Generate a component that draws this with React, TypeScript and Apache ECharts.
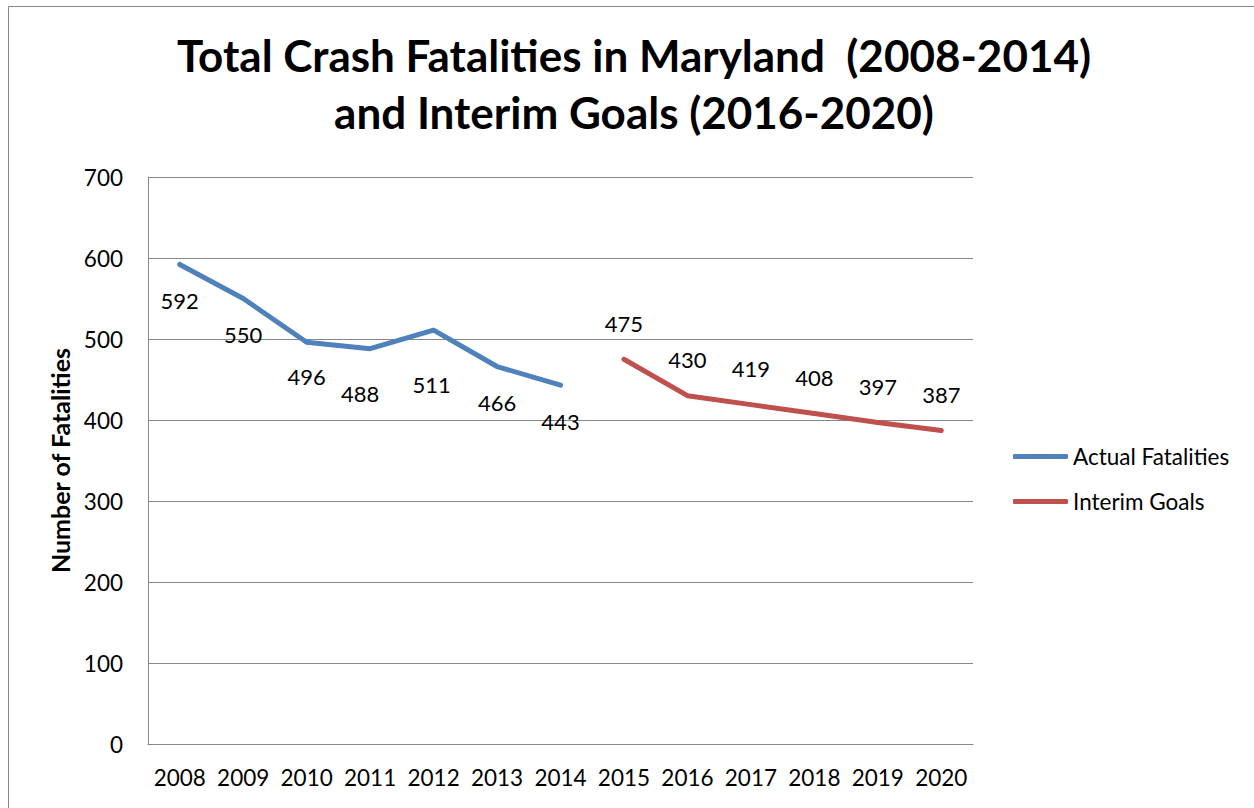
import React, { useEffect, useRef } from "react";
import * as echarts from "echarts";

const years = ["2008", "2009", "2010", "2011", "2012", "2013", "2014", "2015", "2016", "2017", "2018", "2019", "2020"];
const actualFatalities = [592, 550, 496, 488, 511, 466, 443, null, null, null, null, null, null];
const interimGoals = [null, null, null, null, null, null, null, 475, 430, 419, 408, 397, 387];
const yTicks = { min: 0, max: 700, interval: 100 };
// label nudges (style only, in px) for the actual series, as placed in the original
const actualLabelNudge: [number, number][] = [[0, 0], [0, 0], [0, -2], [-10, 9], [-2, 18], [0, 0], [0, 0]];

const FONT = "Lato";
const GRID_COLOR = "#878787";

export default function App() {
  const ref = useRef<HTMLDivElement>(null);
  useEffect(() => {
    if (!ref.current) return;
    const chart = echarts.init(ref.current, null, { renderer: "svg" });
    const actualData = actualFatalities.map((v, i) => {
      const nudge = actualLabelNudge[i];
      if (v == null || !nudge) return v;
      return { value: v, label: { offset: nudge } };
    });
    chart.setOption({
      animation: false,
      backgroundColor: "#ffffff",
      textStyle: { fontFamily: FONT },
      title: {
        text: "Total Crash Fatalities in Maryland  (2008-2014)\nand Interim Goals (2016-2020)",
        left: 629,
        top: 21,
        textAlign: "center",
        textStyle: { fontFamily: FONT, fontWeight: "bold", fontSize: 44, lineHeight: 57, color: "#000" },
      },
      graphic: [
        {
          type: "rect",
          shape: { x: 8.5, y: 6.5, width: 1400, height: 1000 },
          style: { fill: "none", stroke: GRID_COLOR, lineWidth: 1 },
          silent: true,
        },
      ],
      legend: {
        orient: "vertical",
        left: 1008,
        top: 440,
        itemWidth: 55,
        itemHeight: 5,
        itemGap: 22,
        itemTextGap: 1,
        icon: "roundRect",
        textStyle: { fontFamily: FONT, fontSize: 22.5, color: "#000", lineHeight: 22 },
        data: ["Actual Fatalities", "Interim Goals"],
      },
      grid: { left: 148, right: 281, top: 177, bottom: 64, containLabel: false },
      xAxis: {
        type: "category",
        data: years,
        boundaryGap: true,
        axisLine: { show: true, lineStyle: { color: GRID_COLOR, width: 1 } },
        axisTick: { show: false },
        axisLabel: { fontFamily: FONT, fontSize: 22.5, color: "#000", margin: 22, interval: 0 },
      },
      yAxis: {
        type: "value",
        min: yTicks.min,
        max: yTicks.max,
        interval: yTicks.interval,
        name: "Number of Fatalities",
        nameLocation: "middle",
        nameGap: 76,
        nameTextStyle: { fontFamily: FONT, fontWeight: "bold", fontSize: 25, color: "#000" },
        axisLine: { show: true, lineStyle: { color: GRID_COLOR, width: 1 } },
        axisTick: { show: false },
        splitLine: { show: true, lineStyle: { color: GRID_COLOR, width: 1 } },
        axisLabel: { fontFamily: FONT, fontSize: 22.5, color: "#000", margin: 25 },
      },
      series: [
        {
          name: "Actual Fatalities",
          type: "line",
          data: actualData,
          connectNulls: false,
          symbol: "circle",
          symbolSize: 4,
          showSymbol: true,
          color: "#4F81BD",
          lineStyle: { width: 5, color: "#4F81BD", cap: "round", join: "round" },
          itemStyle: { color: "#4F81BD" },
          label: {
            show: true,
            position: "bottom",
            distance: 23,
            fontFamily: FONT,
            fontSize: 22,
            color: "#000",
          },
        },
        {
          name: "Interim Goals",
          type: "line",
          data: interimGoals,
          connectNulls: false,
          symbol: "circle",
          symbolSize: 4,
          showSymbol: true,
          color: "#C0504D",
          lineStyle: { width: 5, color: "#C0504D", cap: "round", join: "round" },
          itemStyle: { color: "#C0504D" },
          label: {
            show: true,
            position: "top",
            distance: 23,
            fontFamily: FONT,
            fontSize: 22,
            color: "#000",
          },
        },
      ],
    });
    return () => chart.dispose();
  }, []);
  return (
    <div
      ref={ref}
      style={{ position: "absolute", left: 0, top: 0, width: 1254, height: 808 }}
    />
  );
}
